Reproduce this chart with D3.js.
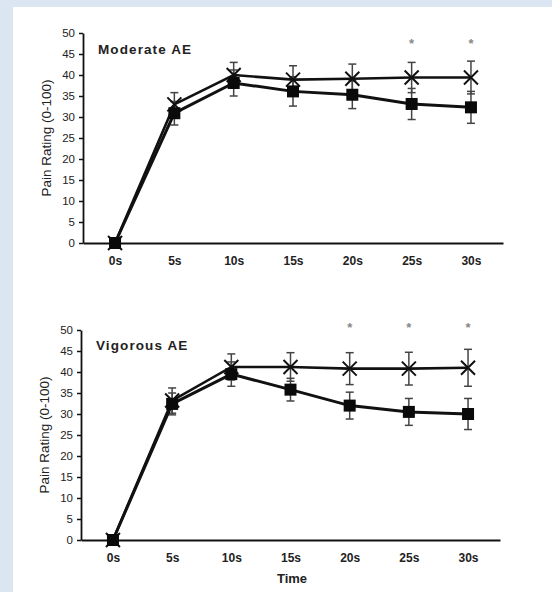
<!DOCTYPE html>
<html><head><meta charset="utf-8">
<script src="https://cdn.jsdelivr.net/npm/d3@7"></script>
<style>
body{margin:0;padding:0;background:#dce6f2;}
svg{display:block;}
text{font-family:"Liberation Sans",Arial,sans-serif;}
</style></head>
<body>
<svg id="chart" width="552" height="592"></svg>
<script>
const categories = ["0s","5s","10s","15s","20s","25s","30s"];
const yTicks = [0,5,10,15,20,25,30,35,40,45,50];

// Moderate AE
const modCross = [0, 33, 40, 38.9, 39.1, 39.4, 39.4];
const modCrossErr = [0, 2.8, 3.0, 3.3, 3.5, 3.6, 3.9];
const modSquare = [0, 30.9, 38.1, 36.1, 35.3, 33.1, 32.3];
const modSquareErr = [0, 2.8, 3.1, 3.5, 3.3, 3.7, 3.8];
const modSig = ["25s","30s"];

// Vigorous AE
const vigCross = [0, 33.2, 41.2, 41.2, 40.8, 40.8, 41.0];
const vigCrossErr = [0, 3.0, 3.1, 3.4, 3.8, 3.9, 4.4];
const vigSquare = [0, 32.4, 39.5, 35.8, 32.0, 30.5, 30.0];
const vigSquareErr = [0, 2.6, 2.9, 2.7, 3.2, 3.2, 3.7];
const vigSig = ["20s","25s","30s"];

const svg = d3.select("#chart");
svg.append("rect").attr("x",13).attr("y",7).attr("width",552-13).attr("height",592-7).attr("fill","#fff");

function panel(cfg){
  const g = svg.append("g");
  const x = d3.scalePoint().domain(categories).range([cfg.x0, cfg.x1]).padding(0.54);
  const y = d3.scaleLinear().domain([0,50]).range([cfg.yb, cfg.yt]);

  const ya = g.append("g").attr("transform",`translate(${cfg.x0},0)`)
    .call(d3.axisLeft(y).tickValues(yTicks).tickSize(4).tickSizeOuter(0).tickPadding(4));
  ya.select(".domain").attr("stroke","#111").attr("stroke-width",1.8);
  ya.selectAll(".tick line").attr("stroke","#111").attr("stroke-width",1.5);
  ya.selectAll(".tick text").attr("font-size",11.5).attr("fill","#222");

  const xa = g.append("g").attr("transform",`translate(0,${cfg.yb})`)
    .call(d3.axisBottom(x).tickSize(0).tickSizeOuter(0).tickPadding(13));
  xa.select(".domain").attr("stroke","#111").attr("stroke-width",2);
  xa.selectAll(".tick text").attr("font-size",12).attr("font-weight","bold").attr("fill","#222");

  const line = d3.line().x((d,i)=>x(categories[i])).y(d=>y(d));

  function errs(vals, errsArr){
    categories.forEach((c,i)=>{
      if(errsArr[i] <= 0) return;
      const cx = x(c), lo = y(vals[i]-errsArr[i]), hi = y(vals[i]+errsArr[i]);
      g.append("line").attr("x1",cx).attr("x2",cx).attr("y1",lo).attr("y2",hi)
        .attr("stroke","#444").attr("stroke-width",1.5);
      [lo,hi].forEach(v=>g.append("line").attr("x1",cx-4).attr("x2",cx+4).attr("y1",v).attr("y2",v)
        .attr("stroke","#444").attr("stroke-width",1.5));
    });
  }
  errs(cfg.cross, cfg.crossErr);
  errs(cfg.square, cfg.squareErr);

  g.append("path").datum(cfg.cross).attr("d",line).attr("fill","none")
    .attr("stroke","#111").attr("stroke-width",2.6);
  g.append("path").datum(cfg.square).attr("d",line).attr("fill","none")
    .attr("stroke","#111").attr("stroke-width",3);

  cfg.cross.forEach((v,i)=>{
    const cx = x(categories[i]), cy = y(v), s = 7;
    g.append("path").attr("d",`M${cx-s},${cy-s}L${cx+s},${cy+s}M${cx-s},${cy+s}L${cx+s},${cy-s}`)
      .attr("stroke","#111").attr("stroke-width",2).attr("fill","none");
  });
  cfg.square.forEach((v,i)=>{
    const cx = x(categories[i]), cy = y(v), s = 12;
    g.append("rect").attr("x",cx-s/2).attr("y",cy-s/2).attr("width",s).attr("height",s).attr("fill","#0a0a0a");
  });

  cfg.sig.forEach(c=>{
    g.append("text").attr("x",x(c)).attr("y",cfg.sigY).attr("text-anchor","middle")
      .attr("font-size",13).attr("font-weight","bold").attr("fill","#888").text("*");
  });

  g.append("text").attr("x",cfg.x0+15).attr("y",cfg.titleY).attr("font-size",13.5)
    .attr("font-weight","bold").attr("fill","#222").attr("letter-spacing",1.1).text(cfg.title);

  g.append("text").attr("transform",`translate(${cfg.labX},${(cfg.yt+cfg.yb)/2}) rotate(-90)`)
    .attr("text-anchor","middle").attr("font-size",13.5).attr("fill","#222").text("Pain Rating (0-100)");
}

panel({x0:83, x1:503, yt:33, yb:243, cross:modCross, crossErr:modCrossErr,
  square:modSquare, squareErr:modSquareErr, sig:modSig, sigY:48, title:"Moderate AE", titleY:54, labX:51});
panel({x0:81, x1:500, yt:330, yb:540, cross:vigCross, crossErr:vigCrossErr,
  square:vigSquare, squareErr:vigSquareErr, sig:vigSig, sigY:332, title:"Vigorous AE", titleY:350, labX:49});

svg.append("text").attr("x",292).attr("y",583).attr("text-anchor","middle").attr("font-size",13)
  .attr("font-weight","bold").attr("fill","#222").text("Time");
</script>
</body></html>
